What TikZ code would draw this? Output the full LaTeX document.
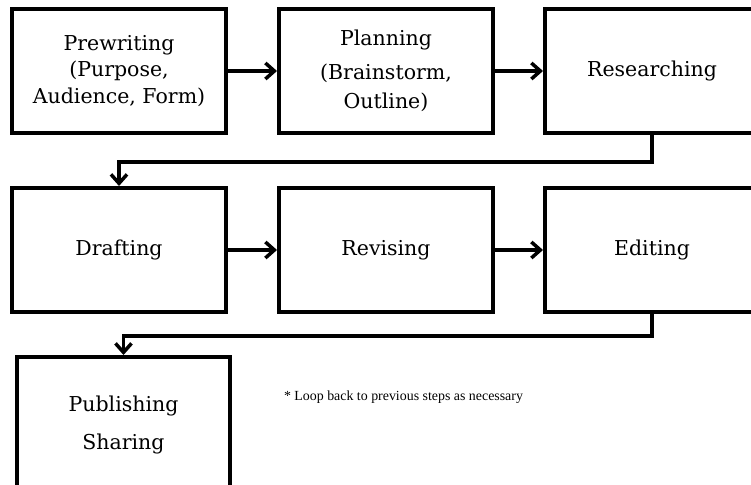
\documentclass[tikz,border=0pt]{standalone}
\usepackage{fontspec}
\setmainfont{DejaVu Serif}
\newfontfamily\notefont{Liberation Serif}
\usetikzlibrary{arrows.meta}
\begin{document}
\begin{tikzpicture}[x=1pt,y=-1pt,
  stepbox/.style={draw=black,line width=4pt,minimum width=214pt,minimum height=124pt,
    inner sep=0pt,align=center,font=\fontsize{20.5}{26.5}\selectfont},
  conn/.style={line width=3.5pt,-{Straight Barb[length=9pt,width=16pt,line width=3.5pt]}}]
\useasboundingbox (0,0) rectangle (751,484);
\node[stepbox] (b1) at (119,71) {Prewriting\\(Purpose,\\Audience, Form)};
\node[stepbox] (b2) at (386,71) {Planning\\[7pt](Brainstorm,\\[3pt]Outline)};
\node[stepbox] (b3) at (652,71) {Researching};
\node[stepbox] (b4) at (119,250) {Drafting};
\node[stepbox] (b5) at (386,250) {Revising};
\node[stepbox] (b6) at (652,250) {Editing};
\node[stepbox,minimum width=213pt,minimum height=136pt] (b7) at (123.5,425)
  {\raisebox{4pt}{\begin{tabular}{@{}c@{}}Publishing\\[11pt]Sharing\end{tabular}}};
\node[font=\notefont\fontsize{13.9}{16}\selectfont] (note) at (403.5,397) {* Loop back to previous steps as necessary};
\draw[conn] (b1.east) -- (b2.west);
\draw[conn] (b2.east) -- (b3.west);
\draw[conn] (b4.east) -- (b5.west);
\draw[conn] (b5.east) -- (b6.west);
\draw[conn] (b3.south) -- ++(0,27) -| (b4.north);
\draw[conn] (b6.south) -- ++(0,22) -| (b7.north);
\end{tikzpicture}
\end{document}
